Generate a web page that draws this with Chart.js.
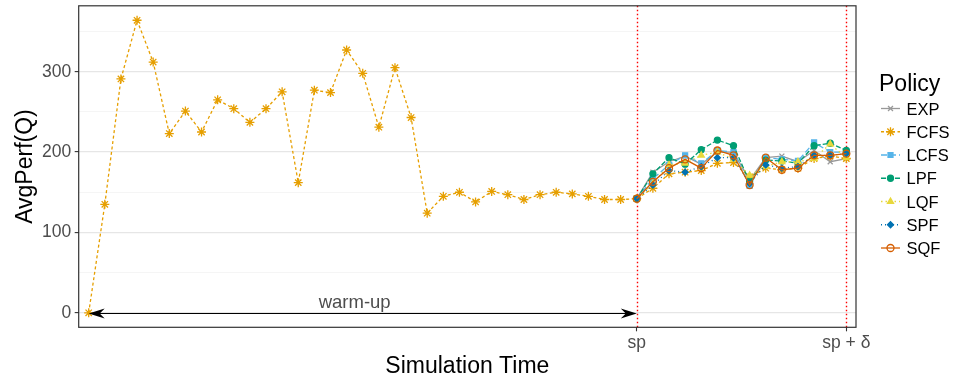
<!DOCTYPE html>
<html>
<head>
<meta charset="utf-8">
<script src="https://cdn.jsdelivr.net/npm/chart.js@4.4.1/dist/chart.umd.min.js"></script>
<style>
  html, body { margin: 0; padding: 0; background: #fff; }
  #wrap { width: 954px; height: 380px; }
</style>
</head>
<body>
<div id="wrap"><canvas id="chart" width="954" height="380"></canvas></div>
<script>
// ---- data ----
const steps = [0,1,2,3,4,5,6,7,8,9,10,11,12,13,14,15,16,17,18,19,20,21,22,23,
  24,25,26,27,28,29,30,31,32,33,34,35,36,37,38,39,40,41,42,43,44,45,46,47];
const clusterSteps = [34,35,36,37,38,39,40,41,42,43,44,45,46,47];

const xTickValues = [34, 47];
const xTickLabels = ['sp', 'sp + δ'];
const yTickValues = [0, 100, 200, 300];
const yMinorValues = [50, 150, 250, 350];

const warmupStart = 0;
const warmupEnd = 34;
const warmupLabel = 'warm-up';
const warmupLabelAt = 16.5;

const policies = ['EXP', 'FCFS', 'LCFS', 'LPF', 'LQF', 'SPF', 'SQF'];

const fcfsAll = [0, 135, 291, 364, 312, 223, 251, 225, 265, 254, 237, 254, 275, 162,
  277, 274, 327, 298, 231, 305, 243, 124, 145, 150, 138, 151, 147, 141, 147, 150,
  148, 145, 141, 141, 142,
  155, 173, 175, 177, 186, 187, 169, 180, 178, 180, 192, 195, 192];

const expVals  = [142, 175, 188, 195, 185, 200, 200, 165, 193, 195, 188, 202, 188, 192];
const lcfsVals = [142, 167, 184, 196, 186, 202, 200, 158, 193, 191, 189, 212, 200, 200];
const lpfVals  = [142, 173, 193, 185, 203, 215, 208, 163, 190, 189, 186, 208, 211, 202];
const lqfVals  = [142, 161, 184, 186, 196, 200, 191, 171, 182, 188, 188, 192, 210, 193];
const spfVals  = [142, 159, 177, 175, 182, 193, 193, 161, 184, 180, 182, 196, 196, 198];
const sqfVals  = [142, 163, 180, 191, 180, 202, 196, 159, 193, 178, 180, 196, 196, 198];

// ---- styles ----
const colors = ['#999999', '#E69F00', '#56B4E9', '#009E73', '#E8D83C', '#0072B2', '#D55E00'];
const dashes = [[], [3, 2.5], [6, 3], [5, 2], [1.5, 3], [1, 3], []];
const shapes = ['crossRot', 'star', 'rect', 'circle', 'triangle', 'rectRot', 'circle'];
const radii = [3.5, 4.5, 3.5, 3, 3.5, 3, 3.5];
const fills = ['#999999', '#E69F00', '#56B4E9', '#009E73', '#E8D83C', '#0072B2', 'rgba(0,0,0,0)'];

function pts(xs, ys) { return xs.map((x, i) => ({ x: x, y: ys[i] })); }

const seriesData = [
  pts(clusterSteps, expVals),
  pts(steps, fcfsAll),
  pts(clusterSteps, lcfsVals),
  pts(clusterSteps, lpfVals),
  pts(clusterSteps, lqfVals),
  pts(clusterSteps, spfVals),
  pts(clusterSteps, sqfVals)
];

const datasets = policies.map((name, i) => ({
  label: name,
  data: seriesData[i],
  borderColor: colors[i],
  backgroundColor: fills[i],
  borderWidth: 1.3,
  borderDash: dashes[i],
  pointStyle: shapes[i],
  pointRadius: radii[i],
  pointBorderWidth: 1.3,
  pointBorderColor: colors[i],
  pointBackgroundColor: fills[i],
  tension: 0,
  order: policies.length - i
}));

const FONT = '"Liberation Sans", Arial, sans-serif';

// ---- annotations: red lines, warm-up arrow, frame, legend ----
const overlay = {
  id: 'overlay',
  beforeDatasetsDraw(chart) {
    const { ctx, chartArea: a, scales: { x } } = chart;
    ctx.save();
    ctx.strokeStyle = '#ff0000';
    ctx.lineWidth = 1.4;
    ctx.setLineDash([1.5, 2.5]);
    xTickValues.forEach(v => {
      const px = Math.round(x.getPixelForValue(v)) + 0.5;
      ctx.beginPath();
      ctx.moveTo(px, a.top);
      ctx.lineTo(px, a.bottom);
      ctx.stroke();
    });
    ctx.restore();
  },
  afterDatasetsDraw(chart) {
    const { ctx, scales: { x, y } } = chart;
    const x0 = x.getPixelForValue(warmupStart);
    const x1 = x.getPixelForValue(warmupEnd);
    const py = Math.round(y.getPixelForValue(0)) + 0.5;
    ctx.save();
    ctx.strokeStyle = '#000';
    ctx.fillStyle = '#000';
    ctx.lineWidth = 1.1;
    ctx.beginPath();
    ctx.moveTo(x0 + 4, py);
    ctx.lineTo(x1 - 4, py);
    ctx.stroke();
    const head = (tip, dir) => {
      ctx.beginPath();
      ctx.moveTo(tip, py);
      ctx.lineTo(tip - dir * 16, py - 5);
      ctx.lineTo(tip - dir * 11, py);
      ctx.lineTo(tip - dir * 16, py + 5);
      ctx.closePath();
      ctx.fill();
    };
    head(x1, 1);
    head(x0, -1);
    ctx.font = '18.5px ' + FONT;
    ctx.fillStyle = '#4d4d4d';
    ctx.textAlign = 'center';
    ctx.textBaseline = 'alphabetic';
    ctx.fillText(warmupLabel, x.getPixelForValue(warmupLabelAt), py - 6);
    ctx.restore();
  },
  afterDraw(chart) {
    const { ctx, chartArea: a } = chart;
    ctx.save();
    ctx.strokeStyle = '#333333';
    ctx.lineWidth = 1.2;
    ctx.strokeRect(a.left, a.top, a.right - a.left, a.bottom - a.top);

    // legend
    ctx.fillStyle = '#000';
    ctx.font = '23px ' + FONT;
    ctx.textAlign = 'left';
    ctx.textBaseline = 'alphabetic';
    ctx.fillText('Policy', 879, 91);
    ctx.font = '16.5px ' + FONT;
    chart.data.datasets.forEach((ds, i) => {
      const cy = 108.5 + 23.25 * i;
      ctx.save();
      ctx.strokeStyle = ds.borderColor;
      ctx.lineWidth = 1.3;
      ctx.setLineDash(ds.borderDash);
      ctx.beginPath();
      ctx.moveTo(881, cy);
      ctx.lineTo(900, cy);
      ctx.stroke();
      ctx.setLineDash([]);
      ctx.fillStyle = ds.pointBackgroundColor;
      ctx.strokeStyle = ds.pointBorderColor;
      ctx.lineWidth = 1.3;
      Chart.helpers.drawPoint(ctx, { pointStyle: ds.pointStyle, radius: ds.pointRadius, borderWidth: 1.3, rotation: 0 }, 890.5, cy);
      ctx.restore();
      ctx.fillStyle = '#000';
      ctx.fillText(ds.label, 906.5, cy + 6);
    });
    ctx.restore();
  }
};

new Chart(document.getElementById('chart').getContext('2d'), {
  type: 'line',
  data: { datasets: datasets },
  plugins: [overlay],
  options: {
    responsive: false,
    devicePixelRatio: 1,
    animation: false,
    layout: { padding: { left: 0, right: 98, top: 2.7, bottom: 0 } },
    plugins: { legend: { display: false }, tooltip: { enabled: false } },
    scales: {
      x: {
        type: 'linear',
        min: -0.62,
        max: 47.6,
        afterBuildTicks: s => { s.ticks = xTickValues.map(v => ({ value: v })); },
        afterFit: s => { s.height = 52.7; s.paddingLeft = 0; s.paddingRight = 0; },
        ticks: {
          autoSkip: false,
          maxRotation: 0,
          padding: 1,
          color: '#4d4d4d',
          font: { family: FONT, size: 17.5 },
          callback: v => xTickLabels[xTickValues.indexOf(v)]
        },
        grid: { drawOnChartArea: false, tickLength: 4, tickColor: '#333333', tickWidth: 1.1 },
        border: { display: false },
        title: {
          display: true,
          text: 'Simulation Time',
          color: '#000',
          font: { family: FONT, size: 23 },
          padding: { top: 0, bottom: 0 }
        }
      },
      y: {
        min: -18,
        max: 382,
        afterBuildTicks: s => {
          s.ticks = yTickValues.concat(yMinorValues).sort((a, b) => a - b).map(v => ({ value: v }));
        },
        afterFit: s => { s.width = 78.7; s.paddingTop = 0; s.paddingBottom = 0; },
        ticks: {
          padding: 3.5,
          color: '#4d4d4d',
          font: { family: FONT, size: 17.5 },
          callback: v => (yTickValues.includes(v) ? String(v) : '')
        },
        grid: {
          tickLength: 4,
          color: c => (yTickValues.includes(c.tick.value) ? '#e6e6e6' : '#f2f2f2'),
          lineWidth: c => (yTickValues.includes(c.tick.value) ? 1.2 : 0.8),
          tickColor: c => (yTickValues.includes(c.tick.value) ? '#333333' : 'rgba(0,0,0,0)'),
          tickWidth: 1.1
        },
        border: { display: false },
        title: {
          display: true,
          text: 'AvgPerf(Q)',
          color: '#000',
          font: { family: FONT, size: 23 },
          padding: { top: 12, bottom: 0 }
        }
      }
    }
  }
});
</script>
</body>
</html>
